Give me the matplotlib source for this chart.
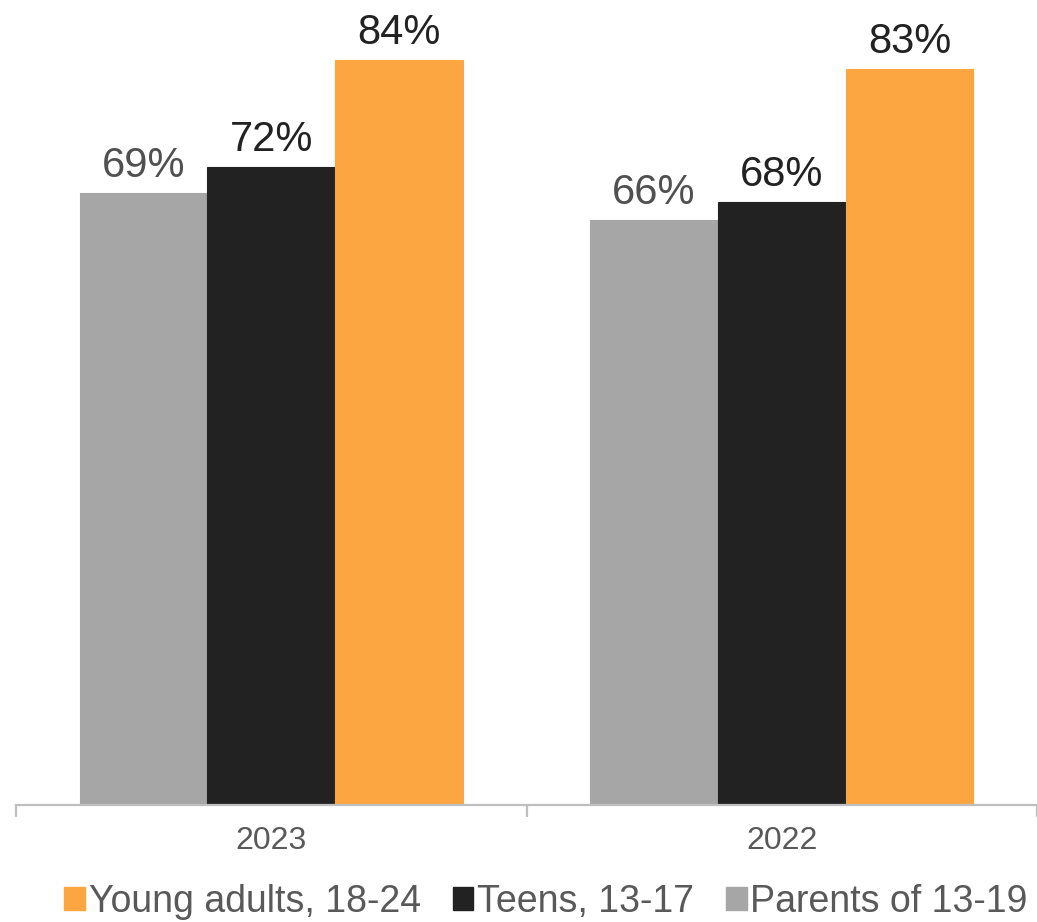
import matplotlib
matplotlib.use("Agg")
import matplotlib.pyplot as plt
import numpy as np
from matplotlib.patches import Patch

plt.rcParams['font.family'] = ['Liberation Sans', 'DejaVu Sans']

years = ["2023", "2022"]
parents = [69, 66]
teens = [72, 68]
young_adults = [84, 83]

series = [
    ("Parents of 13-19", parents, "#a6a6a6", "#505050"),
    ("Teens, 13-17", teens, "#222222", "#222222"),
    ("Young adults, 18-24", young_adults, "#fba640", "#222222"),
]

W, H = 1037, 922
fig = plt.figure(figsize=(W / 100, H / 100), dpi=100)
ax = fig.add_axes([16 / W, 117 / H, 1021 / W, 805 / H])

x = np.arange(len(years))
width = 0.25
offsets = [-width, 0, width]

for (name, vals, color, lcolor), off in zip(series, offsets):
    bars = ax.bar(x + off, vals, width, color=color, edgecolor=color,
                  linewidth=0.8, zorder=2)
    for b, v in zip(bars, vals):
        ax.annotate(f"{v}%", (b.get_x() + b.get_width() / 2, b.get_height()),
                    xytext=(0, 5), textcoords="offset points",
                    ha="center", va="bottom", fontsize=30, color=lcolor)

ax.set_xlim(-0.5, 1.5)
ax.set_ylim(0, 90.8)

for s in ("left", "top", "right"):
    ax.spines[s].set_visible(False)
ax.spines["bottom"].set_color("#bfbfbf")
ax.spines["bottom"].set_linewidth(1.6)
ax.spines["bottom"].set_zorder(3)

ax.set_yticks([])
ax.set_xticks(x)
ax.set_xticklabels(years, fontsize=23, color="#595959")
ax.tick_params(axis="x", which="major", length=0, pad=15)
ax.set_xticks([-0.5, 0.5, 1.5], minor=True)
ax.tick_params(axis="x", which="minor", length=8.5, width=1.6,
               color="#bfbfbf", direction="out")

handles = [Patch(facecolor="#fba640", edgecolor="#fba640", label="Young adults, 18-24"),
           Patch(facecolor="#222222", edgecolor="#222222", label="Teens, 13-17"),
           Patch(facecolor="#a6a6a6", edgecolor="#a6a6a6", label="Parents of 13-19")]
leg = fig.legend(handles=handles, loc="center", ncol=3,
                 bbox_to_anchor=(546 / W, 1 - 902 / H), frameon=False,
                 fontsize=27, handlelength=0.55, handleheight=0.55,
                 handletextpad=0.1, columnspacing=0.85, borderpad=0, borderaxespad=0)
for t in leg.get_texts():
    t.set_color("#595959")

fig.savefig("out.png", dpi=100)
